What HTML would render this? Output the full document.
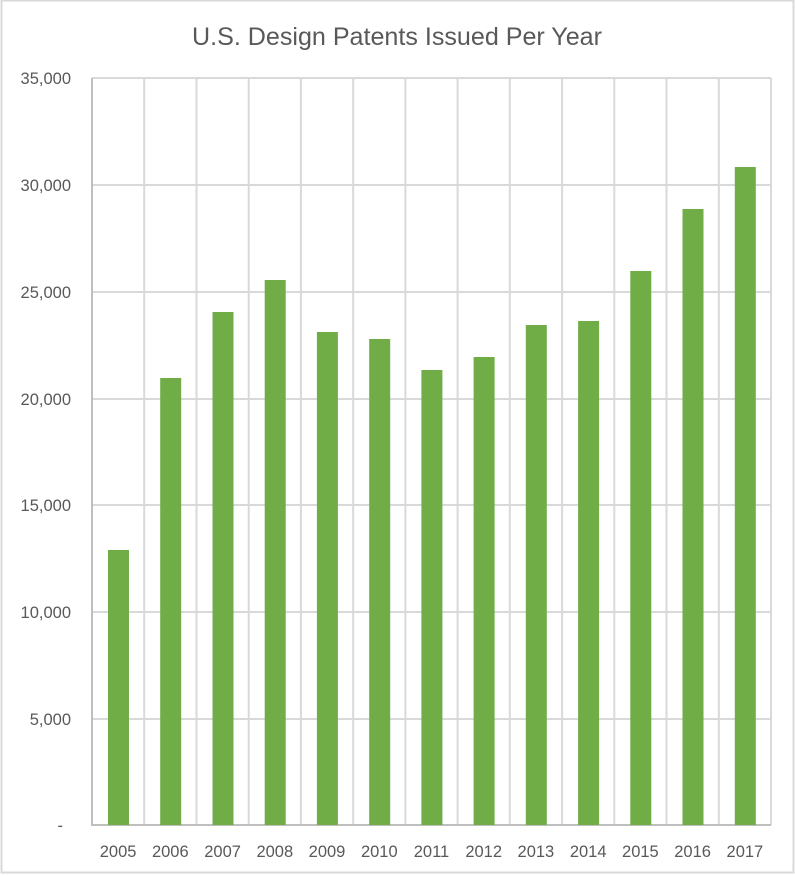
<!DOCTYPE html>
<html><head><meta charset="utf-8"><style>
html,body{margin:0;padding:0;background:#fff;}
svg{display:block;}
text{font-family:"Liberation Sans",sans-serif;fill:#595959;}
</style></head><body>
<svg width="795" height="876" viewBox="0 0 795 876" xmlns="http://www.w3.org/2000/svg">
<rect x="1.5" y="0.5" width="792" height="872" fill="#fff" stroke="#d9d9d9" stroke-width="2"/>
<text x="397" y="45" font-size="25" text-anchor="middle" textLength="410" lengthAdjust="spacingAndGlyphs">U.S. Design Patents Issued Per Year</text>
<g stroke="#d9d9d9" stroke-width="2">
<line x1="92" y1="78" x2="771" y2="78"/>
<line x1="92" y1="185" x2="771" y2="185"/>
<line x1="92" y1="292" x2="771" y2="292"/>
<line x1="92" y1="399" x2="771" y2="399"/>
<line x1="92" y1="505" x2="771" y2="505"/>
<line x1="92" y1="612" x2="771" y2="612"/>
<line x1="92" y1="719" x2="771" y2="719"/>
<line x1="144.2" y1="78" x2="144.2" y2="825"/>
<line x1="196.5" y1="78" x2="196.5" y2="825"/>
<line x1="248.7" y1="78" x2="248.7" y2="825"/>
<line x1="300.9" y1="78" x2="300.9" y2="825"/>
<line x1="353.2" y1="78" x2="353.2" y2="825"/>
<line x1="405.4" y1="78" x2="405.4" y2="825"/>
<line x1="457.6" y1="78" x2="457.6" y2="825"/>
<line x1="509.8" y1="78" x2="509.8" y2="825"/>
<line x1="562.1" y1="78" x2="562.1" y2="825"/>
<line x1="614.3" y1="78" x2="614.3" y2="825"/>
<line x1="666.5" y1="78" x2="666.5" y2="825"/>
<line x1="718.8" y1="78" x2="718.8" y2="825"/>
<line x1="771" y1="78" x2="771" y2="825"/>
</g>
<g stroke="#bfbfbf" stroke-width="2">
<line x1="92" y1="78" x2="92" y2="826"/>
<line x1="91" y1="825" x2="771" y2="825"/>
</g>
<g fill="#70ad47">
<rect x="108" y="550" width="21" height="275"/>
<rect x="160.2" y="378" width="21" height="447"/>
<rect x="212.5" y="312" width="21" height="513"/>
<rect x="264.7" y="280" width="21" height="545"/>
<rect x="316.9" y="332" width="21" height="493"/>
<rect x="369.2" y="339" width="21" height="486"/>
<rect x="421.4" y="370" width="21" height="455"/>
<rect x="473.6" y="357" width="21" height="468"/>
<rect x="525.8" y="325" width="21" height="500"/>
<rect x="578.1" y="321" width="21" height="504"/>
<rect x="630.3" y="271" width="21" height="554"/>
<rect x="682.5" y="209" width="21" height="616"/>
<rect x="734.8" y="167" width="21" height="658"/>
</g>
<g font-size="16.5" text-anchor="end">
<text x="71" y="84">35,000</text>
<text x="71" y="191">30,000</text>
<text x="71" y="298">25,000</text>
<text x="71" y="405">20,000</text>
<text x="71" y="511">15,000</text>
<text x="71" y="618">10,000</text>
<text x="71" y="725">5,000</text>
<text x="63" y="831">-</text>
</g>
<g font-size="16.5" text-anchor="middle">
<text x="118.1" y="857">2005</text>
<text x="170.3" y="857">2006</text>
<text x="222.6" y="857">2007</text>
<text x="274.8" y="857">2008</text>
<text x="327" y="857">2009</text>
<text x="379.3" y="857">2010</text>
<text x="431.5" y="857">2011</text>
<text x="483.7" y="857">2012</text>
<text x="535.9" y="857">2013</text>
<text x="588.2" y="857">2014</text>
<text x="640.4" y="857">2015</text>
<text x="692.6" y="857">2016</text>
<text x="744.9" y="857">2017</text>
</g>
</svg>
</body></html>
